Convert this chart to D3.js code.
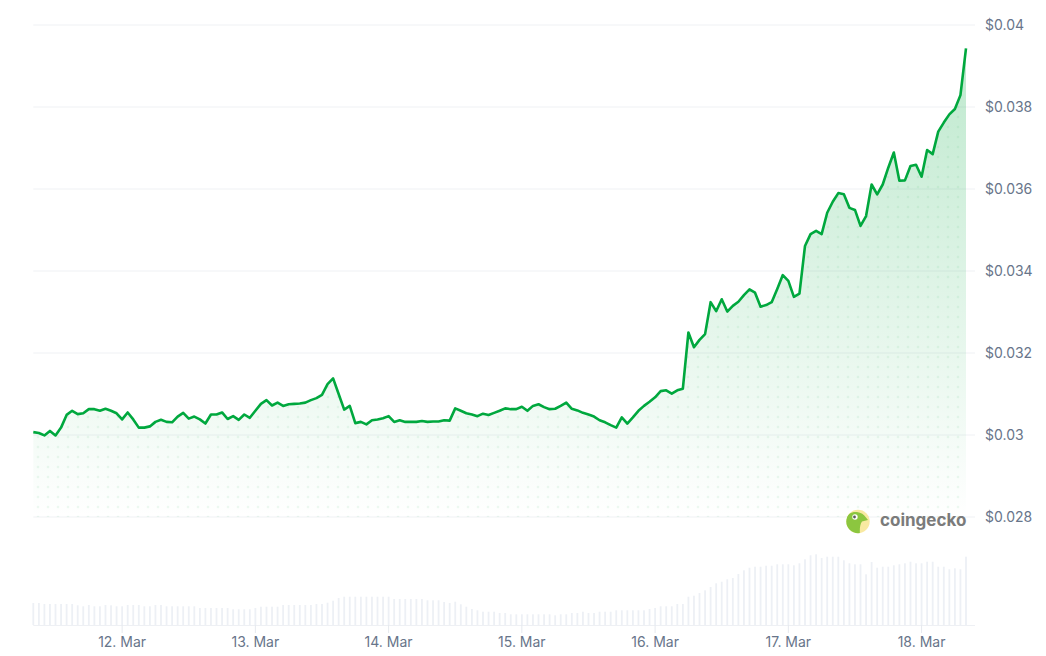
<!DOCTYPE html>
<html>
<head>
<meta charset="utf-8">
<script src="https://cdn.jsdelivr.net/npm/d3@7"></script>
<style>
  body { margin: 0; background: #fff; }
  svg { display: block; font-family: Inter, "Noto Sans", sans-serif; }
</style>
</head>
<body>
<div id="chart"></div>
<script>
// hourly samples, 11 Mar 08:00 UTC -> 18 Mar 08:00 UTC
const startTime = Date.UTC(2025, 2, 11, 8);

const prices = [
  0.03007, 0.03005, 0.02999, 0.03010, 0.02999, 0.03018, 0.03049, 0.03059, 0.03051, 0.03053,
  0.03063, 0.03063, 0.03059, 0.03064, 0.03059, 0.03053, 0.03038, 0.03055, 0.03038, 0.03018,
  0.03018, 0.03021, 0.03032, 0.03037, 0.03032, 0.03031, 0.03045, 0.03054, 0.03040, 0.03045,
  0.03038, 0.03028, 0.03050, 0.03050, 0.03055, 0.03039, 0.03046, 0.03037, 0.03050, 0.03042,
  0.03059, 0.03076, 0.03085, 0.03072, 0.03079, 0.03071, 0.03075, 0.03076, 0.03077, 0.03079,
  0.03085, 0.03090, 0.03098, 0.03124, 0.03138, 0.03100, 0.03062, 0.03071, 0.03029, 0.03032,
  0.03026, 0.03036, 0.03038, 0.03041, 0.03046, 0.03032, 0.03036, 0.03032, 0.03032, 0.03032,
  0.03034, 0.03032, 0.03033, 0.03033, 0.03036, 0.03035, 0.03065, 0.03059, 0.03053, 0.03050,
  0.03046, 0.03052, 0.03049, 0.03054, 0.03059, 0.03065, 0.03063, 0.03063, 0.03069, 0.03059,
  0.03071, 0.03075, 0.03068, 0.03063, 0.03064, 0.03071, 0.03079, 0.03064, 0.03060, 0.03054,
  0.03050, 0.03045, 0.03036, 0.03031, 0.03024, 0.03018, 0.03043, 0.03028, 0.03043, 0.03059,
  0.03071, 0.03081, 0.03092, 0.03107, 0.03109, 0.03101, 0.03109, 0.03113, 0.03250, 0.03214,
  0.03232, 0.03246, 0.03324, 0.03302, 0.03331, 0.03301, 0.03315, 0.03325, 0.03341, 0.03355,
  0.03347, 0.03313, 0.03317, 0.03324, 0.03356, 0.03390, 0.03376, 0.03337, 0.03345, 0.03461,
  0.03490, 0.03498, 0.03490, 0.03542, 0.03569, 0.03590, 0.03587, 0.03554, 0.03549, 0.03510,
  0.03534, 0.03611, 0.03587, 0.03611, 0.03652, 0.03689, 0.03620, 0.03621, 0.03656, 0.03659,
  0.03630, 0.03695, 0.03685, 0.03740, 0.03762, 0.03782, 0.03795, 0.03829, 0.03943
];

// volume, thousands of USD
const volumes = [
  220, 220, 210, 210, 210, 210, 210, 210, 197, 187,
  200, 187, 187, 200, 197, 187, 187, 200, 200, 200,
  187, 187, 200, 200, 187, 187, 187, 187, 187, 187,
  170, 170, 170, 170, 170, 170, 157, 157, 157, 157,
  170, 183, 183, 183, 183, 200, 200, 200, 200, 200,
  200, 210, 210, 223, 243, 270, 283, 283, 283, 283,
  283, 283, 283, 283, 283, 260, 260, 260, 260, 260,
  260, 247, 247, 247, 230, 220, 233, 207, 183, 160,
  147, 133, 133, 133, 120, 120, 107, 107, 107, 107,
  107, 107, 107, 107, 97, 107, 107, 120, 120, 133,
  120, 120, 133, 133, 133, 147, 147, 147, 147, 147,
  147, 160, 170, 187, 187, 187, 210, 210, 283, 293,
  320, 347, 380, 417, 433, 457, 470, 510, 547, 573,
  583, 583, 593, 593, 607, 607, 607, 597, 617, 657,
  697, 707, 670, 683, 683, 683, 647, 617, 607, 607,
  507, 630, 573, 583, 583, 597, 607, 617, 633, 617,
  617, 633, 633, 583, 583, 557, 567, 557, 683
];

const priceTicks = [0.028, 0.03, 0.032, 0.034, 0.036, 0.038, 0.04];

const width = 1046, height = 656;
const plotLeft = 33.3, plotRight = 966, gridRight = 975;

const data = prices.map((p, i) => ({
  t: d3.utcHour.offset(new Date(startTime), i),
  price: p,
  vol: volumes[i],
}));

const x = d3.scaleUtc()
  .domain(d3.extent(data, d => d.t))
  .range([plotLeft, plotRight]);
const y = d3.scaleLinear().domain([0.028, 0.04]).range([517, 25]);
const yVol = d3.scaleLinear().domain([0, 800]).range([625, 545]);

const svg = d3.select('#chart').append('svg')
  .attr('width', width).attr('height', height);

const defs = svg.append('defs');
const grad = defs.append('linearGradient')
  .attr('id', 'area-grad').attr('gradientUnits', 'userSpaceOnUse')
  .attr('x1', 0).attr('x2', 0).attr('y1', y(0.04)).attr('y2', y(0.028));
grad.append('stop').attr('offset', '0%').attr('stop-color', '#00a83e').attr('stop-opacity', 0.27);
grad.append('stop').attr('offset', '100%').attr('stop-color', '#00a83e').attr('stop-opacity', 0.0);

const pat = defs.append('pattern')
  .attr('id', 'dots').attr('patternUnits', 'userSpaceOnUse')
  .attr('width', 10).attr('height', 10).attr('x', 3).attr('y', 2);
pat.append('circle').attr('cx', 5).attr('cy', 5).attr('r', 1.3)
  .attr('fill', '#00a83e').attr('fill-opacity', 0.07);

// grid
svg.append('g').selectAll('line')
  .data(priceTicks).join('line')
  .attr('x1', plotLeft).attr('x2', gridRight)
  .attr('y1', d => y(d)).attr('y2', d => y(d))
  .attr('stroke', '#eff1f4').attr('stroke-width', 1);

// price area
const area = d3.area()
  .x(d => x(d.t)).y0(y(0.028)).y1(d => y(d.price));
svg.append('path').datum(data).attr('d', area).attr('fill', 'url(#area-grad)');
svg.append('path').datum(data).attr('d', area).attr('fill', 'url(#dots)');

// price line
svg.append('path').datum(data)
  .attr('d', d3.line().x(d => x(d.t)).y(d => y(d.price)))
  .attr('fill', 'none').attr('stroke', '#00a83e')
  .attr('stroke-width', 2.6).attr('stroke-linejoin', 'round');

// y labels
svg.append('g').selectAll('text')
  .data(priceTicks).join('text')
  .attr('x', 985).attr('y', d => y(d)).attr('dy', '0.35em')
  .attr('fill', '#68758a').attr('font-size', 14)
  .text(d => '$' + (+d.toFixed(3)));

// volume bars
svg.append('g').selectAll('rect')
  .data(data).join('rect')
  .attr('x', d => x(d.t) - 0.9).attr('width', 1.8)
  .attr('y', d => yVol(d.vol)).attr('height', d => yVol(0) - yVol(d.vol))
  .attr('fill', '#edf0f5');

svg.append('line')
  .attr('x1', plotLeft).attr('x2', gridRight)
  .attr('y1', yVol(0) + 0.5).attr('y2', yVol(0) + 0.5)
  .attr('stroke', '#eef0f4');

// x axis
const dayTicks = x.ticks(d3.utcDay.every(1));
const xAxis = svg.append('g');
xAxis.selectAll('line').data(dayTicks).join('line')
  .attr('x1', d => x(d)).attr('x2', d => x(d))
  .attr('y1', yVol(0)).attr('y2', yVol(0) + 8)
  .attr('stroke', '#e6e9ee');
xAxis.selectAll('text').data(dayTicks).join('text')
  .attr('x', d => x(d)).attr('y', 647)
  .attr('text-anchor', 'middle')
  .attr('fill', '#68758a').attr('font-size', 14)
  .text(d3.utcFormat('%-d. %b'));

// watermark
const logo = svg.append('g').attr('transform', 'translate(858,521.5)');
defs.append('clipPath').attr('id', 'logo-clip')
  .append('circle').attr('r', 11.7);
logo.append('circle').attr('r', 11.7).attr('fill', '#f8e9a1');
logo.append('path')
  .attr('clip-path', 'url(#logo-clip)')
  .attr('d', 'M-13,14 L-12,-2 C-11,-8 -6,-10 -1,-9.5 C3,-9 6,-7 8,-4 L10,-1.5 L4,0 C2,3 1.5,7 2,14 Z')
  .attr('fill', '#8cc63f');
logo.append('circle').attr('cx', -3).attr('cy', -4.5).attr('r', 2.7).attr('fill', '#fff');
logo.append('circle').attr('cx', -3.5).attr('cy', -4.5).attr('r', 1.4).attr('fill', '#5b5b5b');
svg.append('text')
  .attr('x', 880).attr('y', 526)
  .attr('font-size', 17).attr('font-weight', 700)
  .attr('fill', '#7b7b7b')
  .text('coingecko');
</script>
</body>
</html>
